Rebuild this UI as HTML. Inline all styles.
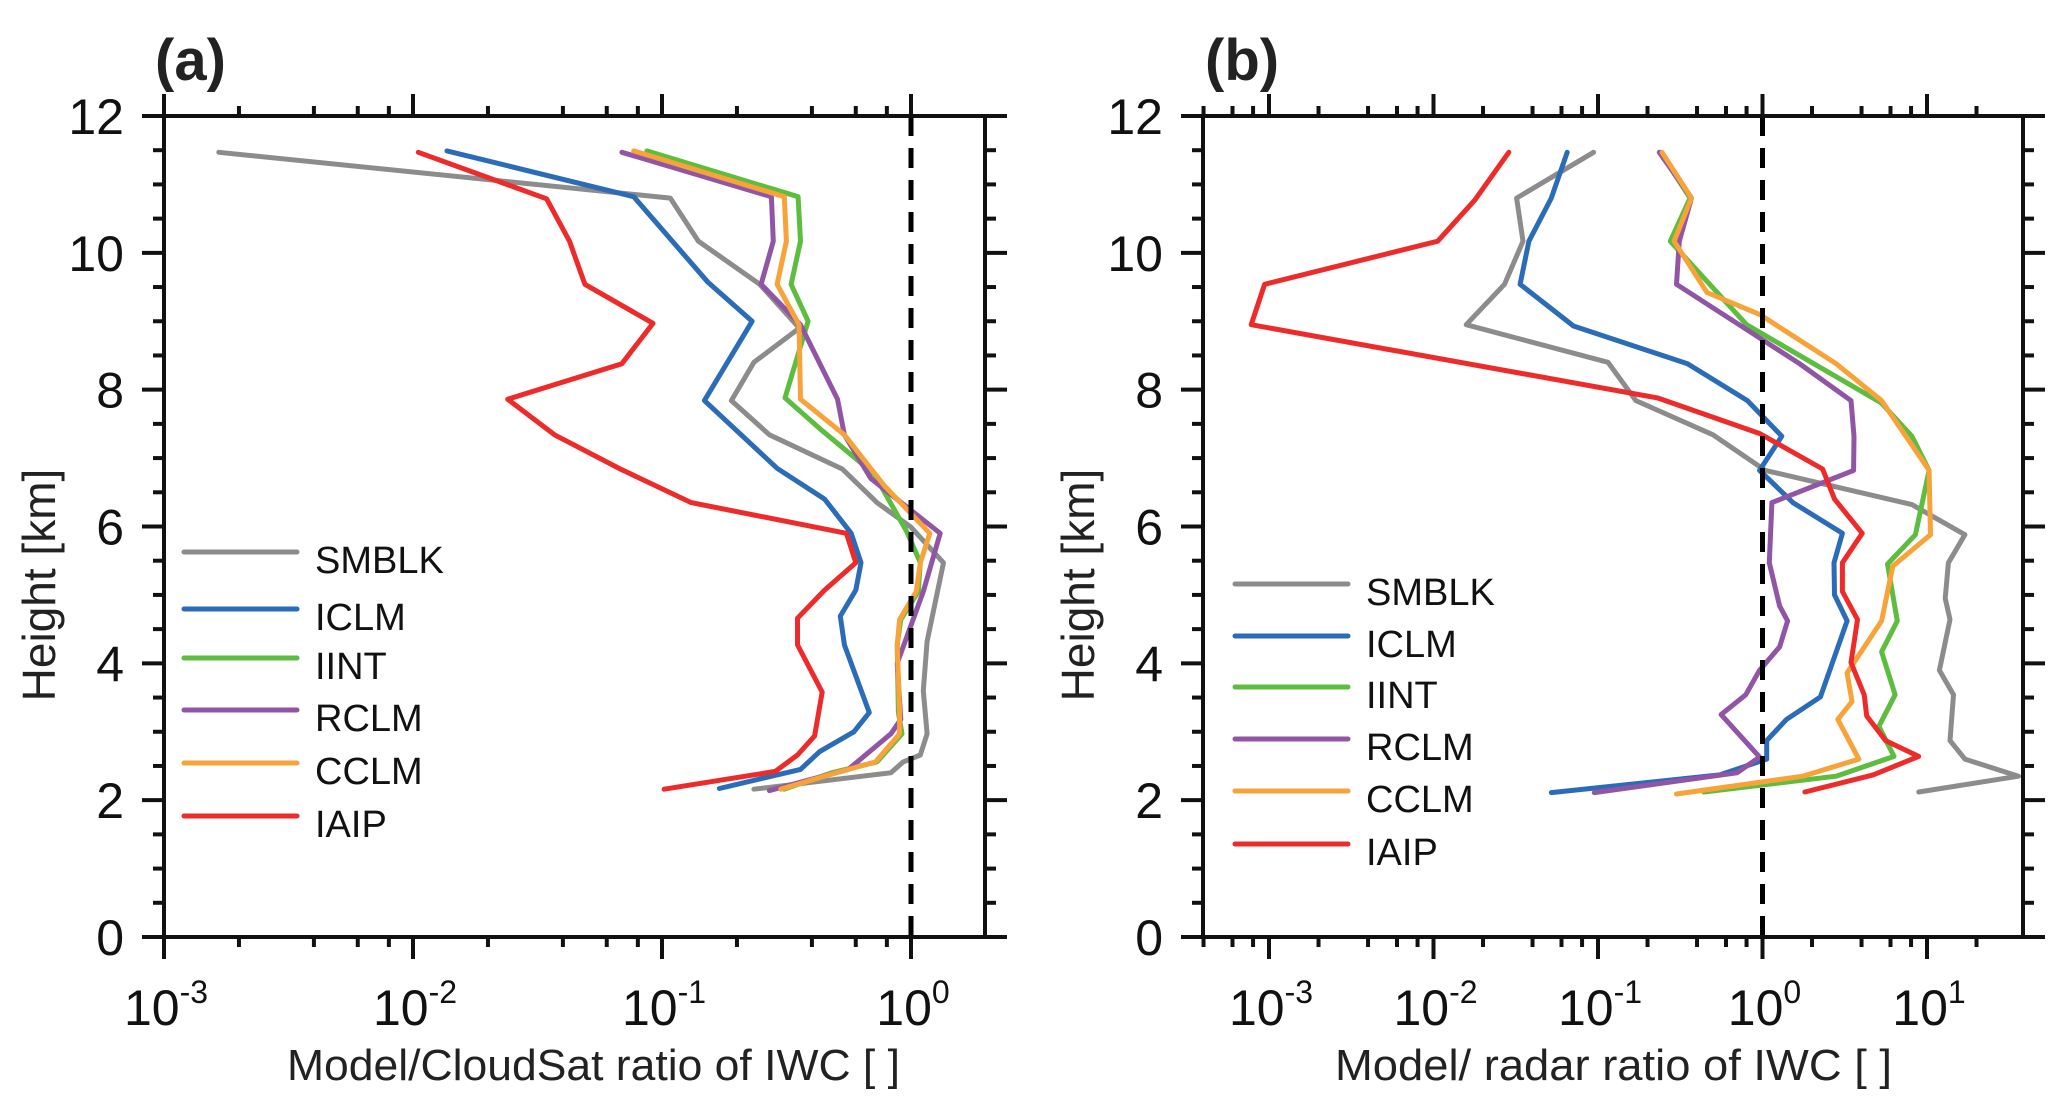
<!DOCTYPE html>
<html><head><meta charset="utf-8"><style>
html,body{margin:0;padding:0;background:#fff;}
svg{display:block;font-family:"Liberation Sans",sans-serif;}
</style></head><body>
<svg id="fig" width="2067" height="1115" viewBox="0 0 2067 1115" xmlns="http://www.w3.org/2000/svg">
<rect width="2067" height="1115" fill="#fff"/>
</svg>
<script>
const seriesNames = ["SMBLK","ICLM","IINT","RCLM","CCLM","IAIP"];
const seriesColors = ["#8c8c8c","#2b6cb8","#5dbd3e","#9155a6","#f8a339","#ee2b2b"];
const yTickLabels = ["0","2","4","6","8","10","12"];
const xTickExpA = [-3,-2,-1,0];
const xTickExpB = [-3,-2,-1,0,1];

// Panel (a) heights and values
const aH_SMBLK = [11.47,10.8,10.17,9.54,8.9,8.4,7.84,7.34,6.84,6.35,5.99,5.47,4.32,3.6,2.97,2.66,2.56,2.4,2.16];
const aV_SMBLK = [0.00166,0.108,0.14,0.247,0.356,0.234,0.19,0.27,0.53,0.73,1.0,1.35,1.16,1.12,1.16,1.09,0.93,0.83,0.234];
const aH_ICLM = [11.49,10.82,9.57,9.0,7.84,6.85,6.4,5.9,5.47,5.07,4.69,4.27,3.28,3.0,2.71,2.45,2.17];
const aV_ICLM = [0.0137,0.077,0.153,0.23,0.148,0.29,0.45,0.575,0.63,0.6,0.52,0.54,0.68,0.59,0.43,0.36,0.17];
const aH_IINT = [11.49,10.82,10.17,9.54,9.0,7.88,7.4,6.77,5.93,5.47,5.05,4.64,4.27,3.28,2.97,2.56,2.4,2.16];
const aV_IINT = [0.087,0.352,0.36,0.33,0.386,0.312,0.44,0.71,0.96,1.09,1.07,0.91,0.88,0.89,0.92,0.73,0.48,0.31];
const aH_RCLM = [11.47,10.82,10.17,9.54,8.95,7.86,7.34,6.7,5.9,5.05,4.0,3.18,2.97,2.45,2.14];
const aV_RCLM = [0.069,0.275,0.28,0.25,0.36,0.507,0.54,0.69,1.31,1.12,0.88,0.91,0.83,0.56,0.27];
const aH_CCLM = [11.49,10.82,10.17,9.54,8.95,7.86,7.34,6.6,5.9,5.47,5.05,4.64,4.27,3.28,2.97,2.56,2.4,2.16];
const aV_CCLM = [0.077,0.31,0.316,0.29,0.355,0.36,0.54,0.78,1.19,1.09,1.05,0.9,0.88,0.9,0.9,0.72,0.5,0.30];
const aH_IAIP = [11.47,10.79,10.17,9.54,8.97,8.38,7.86,7.34,6.84,6.35,5.9,5.47,5.07,4.66,4.27,3.58,2.94,2.66,2.42,2.16];
const aV_IAIP = [0.0105,0.0344,0.0425,0.049,0.092,0.069,0.024,0.037,0.068,0.131,0.55,0.6,0.45,0.35,0.35,0.44,0.41,0.35,0.285,0.102];

// Panel (b) heights and values
const bH_SMBLK = [11.47,10.8,10.17,9.54,8.95,8.4,7.84,7.34,6.82,6.32,5.88,5.47,4.95,4.64,3.9,3.54,2.87,2.6,2.35,2.12];
const bV_SMBLK = [0.094,0.032,0.035,0.027,0.0158,0.115,0.17,0.5,1.04,8.1,17,13.5,12.9,13.8,11.9,14.5,13.8,17,36,8.9];
const bH_ICLM = [11.47,10.8,10.17,9.54,8.93,8.38,7.84,7.32,6.82,6.35,5.9,5.47,5.0,4.62,3.51,3.18,2.87,2.6,2.37,2.11];
const bV_ICLM = [0.065,0.052,0.038,0.0336,0.071,0.35,0.81,1.31,0.96,1.53,3.06,2.72,2.74,3.27,2.25,1.4,1.06,1.06,0.55,0.052];
const bH_IINT = [11.47,10.8,10.17,8.95,7.81,7.32,6.82,5.88,5.45,4.62,4.17,3.54,3.08,2.64,2.35,2.12];
const bV_IINT = [0.24,0.363,0.275,0.8,5.25,8.1,10.3,8.5,5.75,6.6,5.3,6.4,5.1,6.3,2.8,0.44];
const bH_RCLM = [11.47,10.8,10.17,9.54,8.38,7.84,7.32,6.82,6.35,5.47,4.84,4.62,4.24,3.9,3.54,3.25,2.63,2.4,2.11];
const bV_RCLM = [0.236,0.37,0.312,0.30,1.68,3.45,3.6,3.58,1.14,1.1,1.27,1.42,1.27,0.96,0.79,0.56,0.96,0.70,0.095];
const bH_CCLM = [11.47,10.8,10.17,9.42,9.1,8.38,7.84,6.82,5.88,5.42,4.62,3.86,3.44,3.18,2.6,2.35,2.09];
const bV_CCLM = [0.245,0.37,0.29,0.46,0.96,2.8,5.3,10.3,10.5,6.2,5.3,3.27,3.5,2.87,3.85,1.76,0.30];
const bH_IAIP = [11.47,10.77,10.17,9.54,8.95,7.88,7.36,6.84,6.4,5.9,5.47,5.05,4.64,4.01,3.54,3.23,2.87,2.64,2.37,2.12];
const bV_IAIP = [0.0287,0.0178,0.0106,0.00094,0.00078,0.23,0.96,2.32,2.74,4.04,3.06,3.06,3.78,3.45,4.15,4.3,5.6,8.9,4.7,1.81];

const NS="http://www.w3.org/2000/svg";
const svg=document.getElementById('fig');
function mk(tag,attrs,parent){const e=document.createElementNS(NS,tag);for(const k in attrs)e.setAttribute(k,attrs[k]);(parent||svg).appendChild(e);return e;}

const panels=[
 {id:'a',left:164,right:985,top:116,bottom:937,decPx:249,dec0:164,exps:xTickExpA,
  title:"Model/CloudSat ratio of IWC  [ ]",titleX:287,titleW:613,ylabX:55,label:"(a)",labX:155,
  legLine:[184,297],legText:315,legY:[552,609,658,710,763,816],
  H:[aH_SMBLK,aH_ICLM,aH_IINT,aH_RCLM,aH_CCLM,aH_IAIP],V:[aV_SMBLK,aV_ICLM,aV_IINT,aV_RCLM,aV_CCLM,aV_IAIP]},
 {id:'b',left:1203,right:2023,top:116,bottom:937,decPx:164.5,dec0:1269,exps:xTickExpB,
  title:"Model/ radar ratio of IWC  [ ]",titleX:1335,titleW:557,ylabX:1094,label:"(b)",labX:1205,
  legLine:[1235,1348],legText:1366,legY:[584,636,687,739,791,844],
  H:[bH_SMBLK,bH_ICLM,bH_IINT,bH_RCLM,bH_CCLM,bH_IAIP],V:[bV_SMBLK,bV_ICLM,bV_IINT,bV_RCLM,bV_CCLM,bV_IAIP]}
];

panels.forEach(p=>{
 const g=mk('g',{});
 
 
 const xs=v=>p.dec0+(Math.log10(v)+3)*p.decPx;
 const ys=h=>p.bottom-(h/12)*(p.bottom-p.top);
 const lmin=(p.left-p.dec0)/p.decPx-3, lmax=(p.right-p.dec0)/p.decPx-3;
 p.H.forEach((hs,i)=>{
  const pts=hs.map((h,j)=>xs(p.V[i][j]).toFixed(1)+','+ys(h).toFixed(1)).join(' ');
  const pl=mk('polyline',{points:pts,fill:'none',stroke:seriesColors[i],'stroke-width':5,'stroke-linejoin':'round','stroke-linecap':'round'},g);
  
  
 });
 const dl=mk('line',{x1:xs(1),x2:xs(1),y1:p.top,y2:p.bottom,stroke:'#000','stroke-width':5,'stroke-dasharray':'20 12'},g);
 
 
 const fr=mk('rect',{x:p.left,y:p.top,width:p.right-p.left,height:p.bottom-p.top,fill:'none',stroke:'#111','stroke-width':4},g);
 
 
 for(let k=0;k<=24;k++){
  const y=ys(k*0.5), len=(k%4===0)?22:11;
  mk('line',{x1:p.left-len,x2:p.left,y1:y,y2:y,stroke:'#111','stroke-width':4},g);
  mk('line',{x1:p.right,x2:p.right+len,y1:y,y2:y,stroke:'#111','stroke-width':4},g);
 }
 yTickLabels.forEach((t,i)=>{
  const tx=mk('text',{x:p.left-40,y:ys(i*2)+18,'text-anchor':'end','font-size':50,fill:'#111'},g);
  tx.textContent=t;
  
  
 });
 for(let e=-4;e<=2;e++){
  [1,2,4,6,8].forEach(m=>{
   const l=e+Math.log10(m);
   if(l<lmin-1e-6||l>lmax+1e-6)return;
   const x=xs(Math.pow(10,l)), len=(m===1)?22:10;
   mk('line',{x1:x,x2:x,y1:p.bottom,y2:p.bottom+len,stroke:'#111','stroke-width':4},g);
   mk('line',{x1:x,x2:x,y1:p.top-len,y2:p.top,stroke:'#111','stroke-width':4},g);
  });
 }
 p.exps.forEach(e=>{
  const tx=mk('text',{x:xs(Math.pow(10,e))+2,y:1025,'text-anchor':'middle','font-size':50,fill:'#111'},g);
  
  
  const a=document.createElementNS(NS,'tspan');a.textContent='10';tx.appendChild(a);
  const b=document.createElementNS(NS,'tspan');b.setAttribute('font-size','32');b.setAttribute('dy','-22');b.textContent=String(e);tx.appendChild(b);
 });
 const xt=mk('text',{x:p.titleX,y:1080,'font-size':44,fill:'#222',textLength:p.titleW,lengthAdjust:'spacingAndGlyphs'},g);
 xt.textContent=p.title;
 
 
 const yt=mk('text',{x:0,y:0,'text-anchor':'middle','font-size':46,fill:'#222',transform:`translate(${p.ylabX},585) rotate(-90)`},g);
 yt.textContent='Height [km]';
 
 
 const pl=mk('text',{x:p.labX,y:80,'font-size':58,'font-weight':'bold',fill:'#222'},g);
 pl.textContent=p.label;
 
 
 seriesNames.forEach((n,i)=>{
  const lg=mk('g',{},g);
  
  
  mk('line',{x1:p.legLine[0],x2:p.legLine[1],y1:p.legY[i],y2:p.legY[i],stroke:seriesColors[i],'stroke-width':5,'stroke-linecap':'round'},lg);
  const t=mk('text',{x:p.legText,y:p.legY[i]+21,'font-size':38,fill:'#111'},lg);
  t.textContent=n;
 });
});
</script>
</body></html>
